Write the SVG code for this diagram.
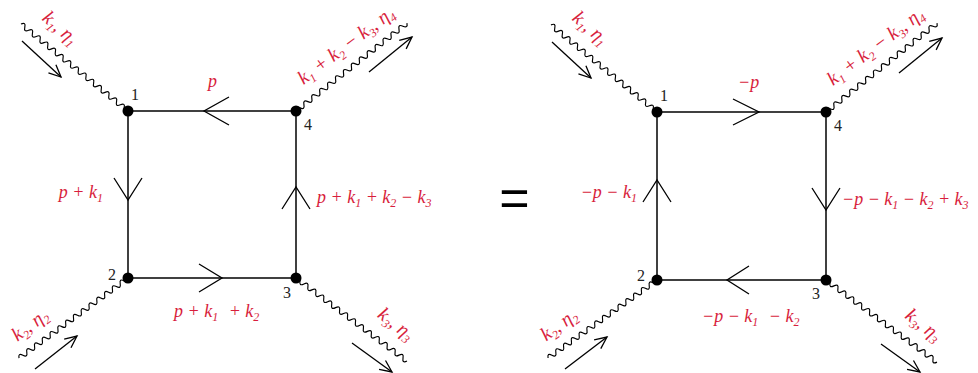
<svg xmlns="http://www.w3.org/2000/svg" xmlns:xlink="http://www.w3.org/1999/xlink" width="978" height="373" viewBox="0 0 978 373">
<style>
.edge{stroke:#000;stroke-width:1.5;fill:none}
.chev{stroke:#000;stroke-width:1.3;fill:none}
.wv{stroke:#000;stroke-width:1.2;fill:none}
.arr{stroke:#000;stroke-width:1.3;fill:none;marker-end:url(#ah)}
.dot{fill:#000}
.num{font-family:"Liberation Serif",serif;font-size:16px;fill:#222}
.lbl{font-family:"Liberation Serif",serif;font-style:italic;font-size:18px;fill:#d81e3c}
.rl{font-size:19.5px}
.s{font-size:12px}
.eq{font-family:"Liberation Sans",sans-serif;font-size:52px;fill:#000}
</style>
<defs>
<marker id="ah" markerUnits="userSpaceOnUse" markerWidth="16" markerHeight="14" refX="13" refY="7" orient="auto" overflow="visible">
<path d="M1,1.5 L13,7 L1,12.5" stroke="#000" stroke-width="1.3" fill="none"/>
</marker>
<path id="wave" d="M0,0 q2.5,-5 5,0 t5,0 t5,0 t5,0 t5,0 t5,0 t5,0 t5,0 t5,0 t5,0 t5,0 t5,0 t5,0 t5,0 t5,0 t5,0 t5,0 t5,0 t5,0 t5,0 t5,0 t5,0 t5,0 t5,0 t5,0 t5,0 t5,0 t5,0"/>
</defs>
<rect width="978" height="373" fill="#fff"/>

<g id="connectors">
<line class="edge" x1="128" y1="111" x2="296" y2="111"/>
<line class="edge" x1="128" y1="111" x2="128" y2="278"/>
<line class="edge" x1="296" y1="111" x2="296" y2="278"/>
<line class="edge" x1="128" y1="278" x2="296" y2="278"/>
<polyline class="chev" points="229,97 204,111 229,125"/>
<polyline class="chev" points="114,178 128,200 142,178"/>
<polyline class="chev" points="282,209 296,187 310,209"/>
<polyline class="chev" points="199,264 222,278 199,292"/>
<use xlink:href="#wave" class="wv" transform="translate(128,111) rotate(-140.9) scale(0.985,1)"/>
<use xlink:href="#wave" class="wv" transform="translate(296,111) rotate(-38.4) scale(1.011,1)"/>
<use xlink:href="#wave" class="wv" transform="translate(128,278) rotate(143.7) scale(0.966,1)"/>
<use xlink:href="#wave" class="wv" transform="translate(296,278) rotate(36.8) scale(0.99,1)"/>
<line class="arr" x1="22" y1="41" x2="61" y2="77"/>
<line class="arr" x1="369" y1="72" x2="412" y2="37"/>
<line class="arr" x1="35" y1="369" x2="77" y2="336"/>
<line class="arr" x1="352" y1="343" x2="392" y2="372"/>
<line class="edge" x1="657" y1="112" x2="826" y2="112"/>
<line class="edge" x1="657" y1="112" x2="657" y2="280"/>
<line class="edge" x1="826" y1="112" x2="826" y2="280"/>
<line class="edge" x1="657" y1="280" x2="826" y2="280"/>
<polyline class="chev" points="733,99 759,112 733,125"/>
<polyline class="chev" points="643,202 657,180 671,202"/>
<polyline class="chev" points="812,188 826,210 840,188"/>
<polyline class="chev" points="749,266 727,280 749,294"/>
<use xlink:href="#wave" class="wv" transform="translate(657,112) rotate(-140.6) scale(0.98,1)"/>
<use xlink:href="#wave" class="wv" transform="translate(826,112) rotate(-38.7) scale(1.016,1)"/>
<use xlink:href="#wave" class="wv" transform="translate(657,280) rotate(144.4) scale(0.957,1)"/>
<use xlink:href="#wave" class="wv" transform="translate(826,280) rotate(36.5) scale(0.986,1)"/>
<line class="arr" x1="552" y1="42" x2="591" y2="78"/>
<line class="arr" x1="899" y1="73" x2="942" y2="38"/>
<line class="arr" x1="565" y1="369" x2="607" y2="337"/>
<line class="arr" x1="881" y1="344" x2="920" y2="372"/>
</g>

<g id="L1"><circle class="dot" cx="128" cy="111" r="5.5"/><text class="num" x="131" y="100">1</text></g>
<g id="L2"><circle class="dot" cx="128" cy="278" r="5.5"/><text class="num" x="108" y="280">2</text></g>
<g id="L3"><circle class="dot" cx="296" cy="278" r="5.5"/><text class="num" x="283" y="298">3</text></g>
<g id="L4"><circle class="dot" cx="296" cy="111" r="5.5"/><text class="num" x="304" y="130">4</text></g>
<g id="R1"><circle class="dot" cx="657" cy="112" r="5.5"/><text class="num" x="660" y="101">1</text></g>
<g id="R2"><circle class="dot" cx="657" cy="280" r="5.5"/><text class="num" x="637" y="281">2</text></g>
<g id="R3"><circle class="dot" cx="826" cy="280" r="5.5"/><text class="num" x="812" y="299">3</text></g>
<g id="R4"><circle class="dot" cx="826" cy="112" r="5.5"/><text class="num" x="834" y="131">4</text></g>

<g id="equals"><text class="eq" x="514.5" y="216" text-anchor="middle">=</text></g>

<g id="labels">
<text class="lbl" x="208" y="87">p</text>
<text class="lbl" x="103" y="198" text-anchor="end">p + k<tspan class="s" dy="4">1</tspan></text>
<text class="lbl" x="317" y="203">p + k<tspan class="s" dy="4">1</tspan><tspan dy="-4"> + k</tspan><tspan class="s" dy="4">2</tspan><tspan dy="-4"> − k</tspan><tspan class="s" dy="4">3</tspan></text>
<text class="lbl" x="174" y="317">p + k<tspan class="s" dy="4">1</tspan><tspan dy="-4" dx="6"> + k</tspan><tspan class="s" dy="4">2</tspan></text>
<text class="lbl rl" text-anchor="middle" transform="translate(57,32) rotate(41)" y="1">k<tspan class="s" dy="4">1</tspan><tspan dy="-4">, η</tspan><tspan class="s" dy="4">1</tspan></text>
<text class="lbl rl" text-anchor="middle" transform="translate(349,49.5) rotate(-37)" y="1">k<tspan class="s" dy="4">1</tspan><tspan dy="-4"> + k</tspan><tspan class="s" dy="4">2</tspan><tspan dy="-4"> − k</tspan><tspan class="s" dy="4">3</tspan><tspan dy="-4">, η</tspan><tspan class="s" dy="4">4</tspan></text>
<text class="lbl rl" text-anchor="middle" transform="translate(33,329) rotate(-37)" y="1">k<tspan class="s" dy="4">2</tspan><tspan dy="-4">, η</tspan><tspan class="s" dy="4">2</tspan></text>
<text class="lbl rl" text-anchor="middle" transform="translate(393,328) rotate(38)" y="1">k<tspan class="s" dy="4">3</tspan><tspan dy="-4">, η</tspan><tspan class="s" dy="4">3</tspan></text>
<text class="lbl" x="738" y="88">−p</text>
<text class="lbl" x="637" y="198" text-anchor="end">−p − k<tspan class="s" dy="4">1</tspan></text>
<text class="lbl" x="842" y="205">−p − k<tspan class="s" dy="4">1</tspan><tspan dy="-4"> − k</tspan><tspan class="s" dy="4">2</tspan><tspan dy="-4"> + k</tspan><tspan class="s" dy="4">3</tspan></text>
<text class="lbl" x="702" y="322">−p − k<tspan class="s" dy="4">1</tspan><tspan dy="-4" dx="6"> − k</tspan><tspan class="s" dy="4">2</tspan></text>
<text class="lbl rl" text-anchor="middle" transform="translate(587,32) rotate(41)" y="1">k<tspan class="s" dy="4">1</tspan><tspan dy="-4">, η</tspan><tspan class="s" dy="4">1</tspan></text>
<text class="lbl rl" text-anchor="middle" transform="translate(878.5,50.5) rotate(-37)" y="1">k<tspan class="s" dy="4">1</tspan><tspan dy="-4"> + k</tspan><tspan class="s" dy="4">2</tspan><tspan dy="-4"> − k</tspan><tspan class="s" dy="4">3</tspan><tspan dy="-4">, η</tspan><tspan class="s" dy="4">4</tspan></text>
<text class="lbl rl" text-anchor="middle" transform="translate(562,329) rotate(-36)" y="1">k<tspan class="s" dy="4">2</tspan><tspan dy="-4">, η</tspan><tspan class="s" dy="4">2</tspan></text>
<text class="lbl rl" text-anchor="middle" transform="translate(920.5,329) rotate(38)" y="1">k<tspan class="s" dy="4">3</tspan><tspan dy="-4">, η</tspan><tspan class="s" dy="4">3</tspan></text>
</g>
</svg>
